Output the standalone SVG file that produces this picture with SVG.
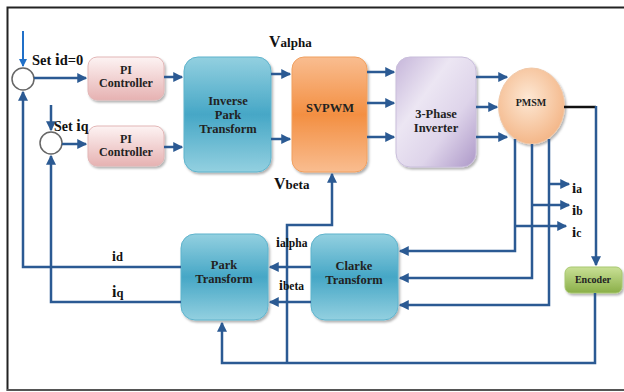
<svg xmlns="http://www.w3.org/2000/svg" width="624" height="392" viewBox="0 0 624 392">
<style>
.t{font-family:"Liberation Serif","Times New Roman",serif;font-weight:bold;fill:#222;text-anchor:middle}
.lb{font-family:"Liberation Serif","Times New Roman",serif;font-weight:bold;fill:#111}
.c{fill:none;stroke:#2b5a93;stroke-width:2.5;stroke-linejoin:miter}
.a{marker-end:url(#ah)}
.box{filter:url(#sh)}
</style>
<defs>
<marker id="ah" markerWidth="4" markerHeight="4" refX="3.5" refY="2" orient="auto" markerUnits="strokeWidth">
<path d="M0,0 L4,2 L0,4 z" fill="#2b5a93"/>
</marker>
<marker id="ah2" markerWidth="4" markerHeight="4" refX="3.5" refY="2" orient="auto" markerUnits="strokeWidth">
<path d="M0,0 L4,2 L0,4 z" fill="#2070c8"/>
</marker>
<filter id="sh" x="-10%" y="-10%" width="130%" height="130%">
<feDropShadow dx="1.5" dy="2" stdDeviation="1.2" flood-color="#000" flood-opacity="0.3"/>
</filter>
<linearGradient id="gPI" x1="0" y1="0" x2="0" y2="1">
<stop offset="0" stop-color="#fdf3f3"/><stop offset="1" stop-color="#e6b2b2"/>
</linearGradient>
<linearGradient id="gT" x1="0" y1="0" x2="0" y2="1">
<stop offset="0" stop-color="#93d0e0"/><stop offset="0.5" stop-color="#46a7c6"/><stop offset="1" stop-color="#93d0e0"/>
</linearGradient>
<linearGradient id="gS" x1="0" y1="0" x2="0" y2="1">
<stop offset="0" stop-color="#f9bd90"/><stop offset="0.5" stop-color="#f38f42"/><stop offset="1" stop-color="#f9bd90"/>
</linearGradient>
<linearGradient id="gI" x1="0" y1="0" x2="1" y2="1">
<stop offset="0" stop-color="#c6b6da"/><stop offset="0.35" stop-color="#ece6f3"/><stop offset="0.65" stop-color="#ded4ea"/><stop offset="1" stop-color="#ad98c8"/>
</linearGradient>
<radialGradient id="gM" cx="0.45" cy="0.4" r="0.65">
<stop offset="0" stop-color="#fde8d4"/><stop offset="1" stop-color="#f3b383"/>
</radialGradient>
<linearGradient id="gE" x1="0" y1="0" x2="0" y2="1">
<stop offset="0" stop-color="#c9e096"/><stop offset="1" stop-color="#8aaf48"/>
</linearGradient>
</defs>
<rect width="624" height="392" fill="#fff"/>
<!-- frame -->
<path d="M7.5 391 V7.5 H624" fill="none" stroke="#222" stroke-width="2"/>
<path d="M7 390 H624" fill="none" stroke="#555" stroke-width="2"/>

<g id="sum1"><circle cx="23" cy="79" r="11" fill="#fff" stroke="#666" stroke-width="1.5"/></g>
<g id="sum2"><circle cx="51" cy="143" r="11" fill="#fff" stroke="#666" stroke-width="1.5"/></g>

<g id="pi1"><rect class="box" x="88" y="57" width="76" height="43" rx="9" fill="url(#gPI)" stroke="#e2b6b6"/>
<text class="t" font-size="12" x="126" y="74">PI</text><text class="t" font-size="12" x="126" y="87">Controller</text></g>
<g id="pi2"><rect class="box" x="88" y="126" width="76" height="40" rx="9" fill="url(#gPI)" stroke="#e2b6b6"/>
<text class="t" font-size="12" x="126" y="143">PI</text><text class="t" font-size="12" x="126" y="156">Controller</text></g>

<g id="ipt"><rect class="box" x="184" y="57" width="87" height="115" rx="14" fill="url(#gT)" stroke="#5fb3cc"/>
<text class="t" font-size="12.5" x="228" y="105">Inverse</text><text class="t" font-size="12.5" x="228" y="119">Park</text><text class="t" font-size="12.5" x="228" y="133">Transform</text></g>

<g id="svpwm"><rect class="box" x="292" y="57" width="75" height="115" rx="12" fill="url(#gS)" stroke="#f0a060"/>
<text class="t" font-size="12.5" x="330" y="112">SVPWM</text></g>

<g id="inverter"><rect class="box" x="396" y="57" width="80" height="110" rx="14" fill="url(#gI)" stroke="#c9bedb"/>
<text class="t" font-size="12.5" x="436" y="118">3-Phase</text><text class="t" font-size="12.5" x="436" y="132">Inverter</text></g>

<g id="pmsm"><ellipse class="box" cx="531.5" cy="106" rx="33" ry="38" fill="url(#gM)" stroke="#f0c8a8"/>
<text class="t" font-size="10" x="531" y="106">PMSM</text></g>

<g id="encoder"><rect class="box" x="565" y="267" width="57" height="26" rx="6" fill="url(#gE)" stroke="#a8c870"/>
<text class="t" font-size="10" x="593" y="283">Encoder</text></g>

<g id="clarke"><rect class="box" x="311" y="234" width="87" height="86" rx="14" fill="url(#gT)" stroke="#5fb3cc"/>
<text class="t" font-size="12.5" x="354" y="270">Clarke</text><text class="t" font-size="12.5" x="354" y="284">Transform</text></g>

<g id="park"><rect class="box" x="181" y="234" width="87" height="86" rx="14" fill="url(#gT)" stroke="#5fb3cc"/>
<text class="t" font-size="12.5" x="224" y="269">Park</text><text class="t" font-size="12.5" x="224" y="283">Transform</text></g>

<g id="connectors">
<path d="M23 31 V66" fill="none" stroke="#2070c8" stroke-width="2" marker-end="url(#ah2)"/>
<path class="c a" d="M34 78 H86"/>
<path class="c a" d="M164 77 H182"/>
<path class="c a" d="M51 105 V130"/>
<path class="c a" d="M62 144 H86"/>
<path class="c a" d="M164 147 H182"/>
<path class="c a" d="M271 74 H290"/>
<path class="c a" d="M271 139 H290"/>
<path class="c a" d="M367 72 H394"/>
<path class="c a" d="M367 103 H394"/>
<path class="c a" d="M367 137 H394"/>
<path class="c a" d="M476 77 H507"/>
<path class="c a" d="M476 107 H497"/>
<path class="c a" d="M476 137 H507"/>
<path d="M564 107 H596" fill="none" stroke="#111" stroke-width="2.5"/>
<path class="c a" d="M596 106 V265"/>
<path class="c a" d="M515 139 V251 H400"/>
<path class="c a" d="M532 144 V278 H400"/>
<path class="c a" d="M549 139 V305 H400"/>
<path class="c a" d="M549 184 H569"/>
<path class="c a" d="M532 205 H569"/>
<path class="c a" d="M515 226 H566"/>
<path class="c a" d="M311 267 H270"/>
<path class="c a" d="M311 302 H270"/>
<path class="c a" d="M181 267 H23 V92"/>
<path class="c a" d="M181 302 H51 V156"/>
<path class="c a" d="M595 293 V363 H222 V323"/>
<path class="c a" d="M287 363 V225 H332 V174"/>
</g>

<g id="labels">
<text class="lb" x="32" y="65" font-size="14.5">Set <tspan font-size="17">i</tspan>d=0</text>
<text class="lb" x="54" y="131" font-size="14">Set <tspan font-size="16">i</tspan>q</text>
<text class="lb" x="269" y="47" font-size="13"><tspan font-size="16">V</tspan>alpha</text>
<text class="lb" x="274" y="189" font-size="13"><tspan font-size="16">V</tspan>beta</text>
<text class="lb" x="572" y="193" font-size="11.5"><tspan font-size="15">i</tspan>a</text>
<text class="lb" x="572" y="215" font-size="11.5"><tspan font-size="15">i</tspan>b</text>
<text class="lb" x="572" y="237" font-size="11.5"><tspan font-size="15">i</tspan>c</text>
<text class="lb" x="276" y="247" font-size="11.5"><tspan font-size="14">i</tspan>alpha</text>
<text class="lb" x="279" y="290" font-size="11.5"><tspan font-size="14">i</tspan>beta</text>
<text class="lb" x="112" y="261" font-size="12.5"><tspan font-size="14">i</tspan>d</text>
<text class="lb" x="112" y="297" font-size="12.5"><tspan font-size="16">i</tspan>q</text>
</g>
</svg>
